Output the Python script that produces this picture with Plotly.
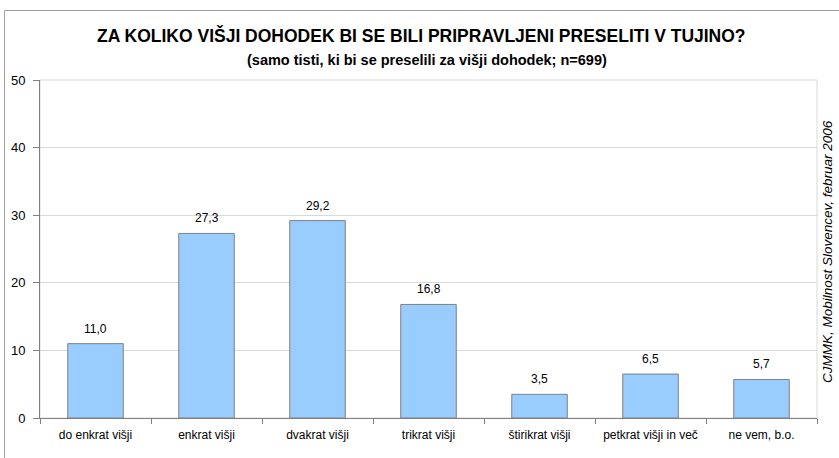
import plotly.graph_objects as go

categories = ["do enkrat višji", "enkrat višji", "dvakrat višji", "trikrat višji",
              "štirikrat višji", "petkrat višji in več", "ne vem, b.o."]
values = [11.0, 27.3, 29.2, 16.8, 3.5, 6.5, 5.7]
value_labels = ["11,0", "27,3", "29,2", "16,8", "3,5", "6,5", "5,7"]
y_ticks = [0, 10, 20, 30, 40, 50]

title = "ZA KOLIKO VIŠJI DOHODEK BI SE BILI PRIPRAVLJENI PRESELITI V TUJINO?"
subtitle = "(samo tisti, ki bi se preselili za višji dohodek; n=699)"
source = "CJMMK, Mobilnost Slovencev, februar 2006"

FONT = "Liberation Sans, Arial, sans-serif"

W, H = 839, 458
L, R, T, B = 40, 22, 80, 40
pw, ph = W - L - R, H - T - B

def px_to_paper_x(px):
    return (px - L) / pw

def py_to_paper_y(py):
    return (H - B - py) / ph

fig = go.Figure()
fig.add_trace(go.Bar(
    x=categories, y=values,
    marker=dict(color="#99CCFF", line=dict(color="#808080", width=1)),
    width=0.5,
    hoverinfo="skip",
))

for cat, val, lab in zip(categories, values, value_labels):
    fig.add_annotation(x=cat, y=val, text=lab, showarrow=False,
                       xanchor="center", yanchor="middle", yshift=15,
                       font=dict(family=FONT, size=12, color="#000000"))

fig.update_layout(
    width=W, height=H,
    margin=dict(l=L, r=R, t=T, b=B),
    paper_bgcolor="white", plot_bgcolor="white",
    showlegend=False,
    font=dict(family=FONT, size=12, color="#000000"),
)
fig.update_yaxes(
    range=[0, 50], tickvals=y_ticks, ticktext=[str(t) for t in y_ticks],
    showgrid=True, gridcolor="#D9D9D9", gridwidth=1,
    showline=True, linecolor="#808080", linewidth=1,
    ticks="outside", ticklen=6, tickcolor="#808080",
    ticklabelstandoff=5,
    tickfont=dict(family=FONT, size=13, color="#000000"),
    zeroline=False, fixedrange=True,
)
fig.update_xaxes(
    showline=True, linecolor="#808080", linewidth=1,
    ticks="outside", ticklen=5, tickcolor="#808080", tickson="boundaries",
    ticklabelstandoff=6,
    tickfont=dict(family=FONT, size=12, color="#000000"),
    showgrid=False, fixedrange=True,
)

# plot area border (light)
fig.add_shape(type="rect", xref="paper", yref="paper", x0=0, x1=1, y0=0, y1=1,
              line=dict(color="#D9D9D9", width=1), layer="below")
# outer chart border (extends beyond the visible page on right and bottom)
fig.add_shape(type="rect", xref="paper", yref="paper",
              x0=px_to_paper_x(4.5), x1=px_to_paper_x(845), y0=py_to_paper_y(465), y1=py_to_paper_y(10.5),
              line=dict(color="#A0A0A0", width=1))

fig.add_annotation(text=f"<b>{title}</b>", xref="paper", yref="paper",
                   x=px_to_paper_x(421), y=py_to_paper_y(35.5), xanchor="center", yanchor="middle",
                   showarrow=False, font=dict(family=FONT, size=17.5, color="#000000"))
fig.add_annotation(text=f"<b>{subtitle}</b>", xref="paper", yref="paper",
                   x=px_to_paper_x(427), y=py_to_paper_y(59.5), xanchor="center", yanchor="middle",
                   showarrow=False, font=dict(family=FONT, size=14.5, color="#000000"))
fig.add_annotation(text=f"<i>{source}</i>", xref="paper", yref="paper",
                   x=px_to_paper_x(828), y=py_to_paper_y(252), xanchor="center", yanchor="middle",
                   textangle=-90, showarrow=False, font=dict(family=FONT, size=13.5, color="#000000"))

fig.write_html("out.html", config={"displayModeBar": False},
               post_script="document.body.style.margin='0';document.body.style.overflow='hidden';")
